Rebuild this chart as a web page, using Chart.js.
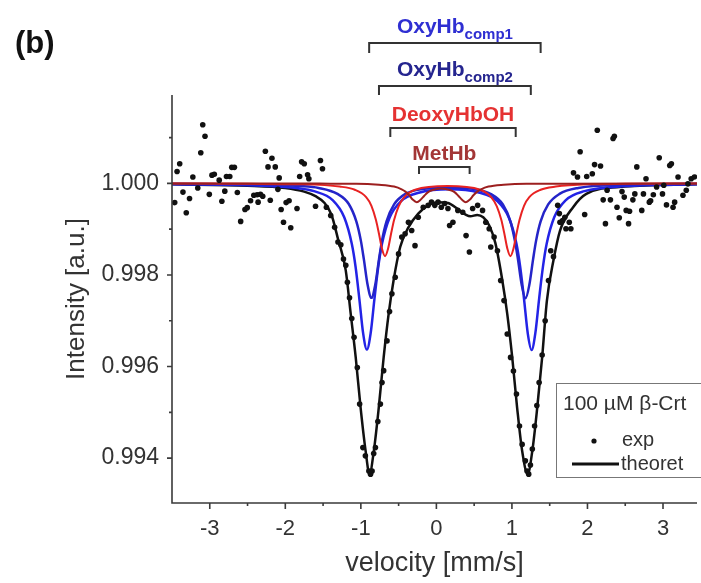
<!DOCTYPE html>
<html lang="en">
<head>
<meta charset="UTF-8" />
<title>Mössbauer spectrum – 100 µM β-Crt</title>
<script src="https://cdn.jsdelivr.net/npm/chart.js"></script>
<style>
  html, body { margin: 0; padding: 0; background: #fff; }
  #wrap { width: 701px; height: 583px; }
</style>
</head>
<body>
<div id="wrap"><canvas id="spectrum" width="701" height="583"></canvas></div>
<script>
  const FONT = 'Arial, "Liberation Sans", Helvetica, sans-serif';

  // measured spectrum
  const expV = [-3.464, -3.433, -3.398, -3.355, -3.311, -3.268, -3.224, -3.159, -3.119, -3.093, -3.063, -3.006,
    -2.971, -2.940, -2.875, -2.840, -2.801, -2.779, -2.735, -2.709, -2.674, -2.635, -2.591, -2.534, -2.504,
    -2.460, -2.417, -2.373, -2.360, -2.329, -2.299, -2.264, -2.229, -2.199, -2.177, -2.133, -2.098, -2.081,
    -2.055, -2.024, -1.989, -1.950, -1.928, -1.845, -1.810, -1.784, -1.749, -1.705, -1.688, -1.600, -1.535,
    -1.508, -1.456, -1.399, -1.347, -1.303, -1.265, -1.230, -1.199, -1.178, -1.150, -1.120, -1.090, -1.047,
    -1.016, -0.973, -0.940, -0.894, -0.872, -0.851, -0.830, -0.807, -0.775, -0.741, -0.720, -0.698, -0.654,
    -0.620, -0.589, -0.545, -0.501, -0.458, -0.414, -0.370, -0.327, -0.283, -0.240, -0.174, -0.109, -0.065,
    -0.021, 0.022, 0.065, 0.110, 0.153, 0.175, 0.219, 0.284, 0.349, 0.393, 0.437, 0.480, 0.546, 0.611, 0.654,
    0.699, 0.720, 0.764, 0.808, 0.851, 0.895, 0.938, 0.982, 1.020, 1.060, 1.100, 1.135, 1.178, 1.200, 1.222,
    1.245, 1.270, 1.300, 1.330, 1.360, 1.400, 1.440, 1.484, 1.514, 1.550, 1.606, 1.628, 1.636, 1.671, 1.700,
    1.715, 1.759, 1.780, 1.815, 1.868, 1.903, 1.963, 1.990, 2.064, 2.094, 2.130, 2.173, 2.208, 2.238, 2.260,
    2.304, 2.339, 2.356, 2.391, 2.421, 2.457, 2.487, 2.513, 2.544, 2.557, 2.601, 2.627, 2.653, 2.719, 2.741,
    2.775, 2.819, 2.836, 2.872, 2.915, 2.950, 2.993, 3.010, 3.046, 3.089, 3.111, 3.133, 3.154, 3.199, 3.264,
    3.308, 3.330, 3.373, 3.416];
  const expI = [0.99958, 1.00026, 1.00043, 0.99981, 0.99936, 0.99967, 1.00014, 0.99990, 1.00067, 1.00128, 1.00103, 0.99976,
    1.00018, 1.00020, 1.00007, 0.99961, 0.99983, 1.00015, 1.00015, 1.00035, 1.00035, 0.99980, 0.99917, 0.99943, 0.99947,
    0.99962, 0.99974, 0.99975, 0.99959, 0.99976, 0.99972, 1.00070, 1.00036, 0.99963, 1.00055, 1.00036, 0.99987, 1.00012,
    0.99943, 0.99915, 0.99958, 0.99962, 0.99903, 0.99945, 1.00015, 1.00047, 1.00043, 1.00019, 1.00010, 0.99950, 1.00050,
    1.00032, 0.99948, 0.99930, 0.99904, 0.99872, 0.99866, 0.99835, 0.99821, 0.99784, 0.99750, 0.99705, 0.99664, 0.99598,
    0.99518, 0.99423, 0.99405, 0.99372, 0.99365, 0.99372, 0.99410, 0.99423, 0.99480, 0.99518, 0.99565, 0.99591, 0.99656,
    0.99720, 0.99759, 0.99795, 0.99846, 0.99883, 0.99890, 0.99915, 0.99897, 0.99864, 0.99926, 0.99948, 0.99952, 0.99959,
    0.99952, 0.99959, 0.99948, 0.99956, 0.99945, 0.99908, 0.99915, 0.99941, 0.99937, 0.99886, 0.99850, 0.99945, 0.99952, 0.99941, 0.99915,
    0.99901, 0.99861, 0.99883, 0.99853, 0.99788, 0.99744, 0.99671, 0.99620, 0.99590, 0.99540, 0.99470, 0.99430, 0.99394, 0.99372, 0.99365,
    0.99385, 0.99420, 0.99470, 0.99515, 0.99565, 0.99625, 0.99700, 0.99788, 0.99853, 0.99840, 0.99952, 0.99934, 0.99915, 0.99919, 0.99926,
    0.99901, 0.99915, 0.99901, 1.00023, 1.00014, 1.00069, 0.99932, 1.00015, 1.00021, 1.00041, 1.00116, 1.00038, 0.99964, 0.99912, 0.99985,
    0.99964, 1.00098, 1.00103, 0.99948, 0.99925, 0.99982, 0.99970, 0.99941, 0.99912, 0.99939, 0.99964, 0.99977, 1.00036, 0.99941, 0.99977,
    1.00010, 0.99959, 0.99962, 0.99975, 0.99992, 1.00056, 0.99977, 0.99996, 0.99953, 1.00039, 1.00043, 0.99948, 0.99959, 1.00014, 0.99974,
    0.99985, 0.99999, 1.00010, 1.00014];

  // fitted envelope
  const totalV = [-3.5, -2.5, -2.0, -1.75, -1.6, -1.48, -1.39, -1.3, -1.2, -1.134, -1.068, -1.003, -0.937, -0.885,
    -0.828, -0.763, -0.698, -0.632, -0.567, -0.479, -0.37, -0.24, -0.109, 0.022, 0.153, 0.284, 0.393, 0.45, 0.54,
    0.62, 0.70, 0.78, 0.873, 0.938, 1.004, 1.069, 1.135, 1.209, 1.27, 1.335, 1.40, 1.463, 1.55, 1.637, 1.81,
    1.985, 2.5, 3.45];
  const totalI = [0.99998, 0.99995, 0.99990, 0.99982, 0.99972, 0.99957, 0.99932, 0.99877, 0.99810, 0.99715, 0.99620,
    0.99510, 0.99416, 0.99365, 0.99416, 0.99510, 0.99620, 0.99715, 0.99788, 0.99861, 0.99904, 0.99934, 0.99952,
    0.99959, 0.99957, 0.99944, 0.99931, 0.99928, 0.99931, 0.99926, 0.99908, 0.99870, 0.99788, 0.99715, 0.99620,
    0.99510, 0.99416, 0.99365, 0.99416, 0.99510, 0.99620, 0.99744, 0.99832, 0.99897, 0.99948, 0.99977, 0.99993, 0.99998];

  // OxyHb component 1
  const comp1V = [-3.5, -2.5, -1.8, -1.62, -1.37, -1.22, -1.12, -1.07, -1.02, -0.97, -0.92, -0.87, -0.82, -0.77,
    -0.72, -0.62, -0.47, -0.22, 0.17, 0.56, 0.81, 0.96, 1.06, 1.11, 1.16, 1.21, 1.26, 1.31, 1.36, 1.41, 1.46,
    1.56, 1.71, 1.96, 2.5, 3.45];
  const comp1I = [0.99998, 0.99996, 0.99989, 0.99983, 0.99963, 0.99926, 0.99868, 0.99818, 0.99748, 0.99673, 0.99637,
    0.99673, 0.99748, 0.99817, 0.99868, 0.99925, 0.99961, 0.99980, 0.99987, 0.99980, 0.99961, 0.99925, 0.99868,
    0.99817, 0.99748, 0.99672, 0.99636, 0.99673, 0.99748, 0.99817, 0.99868, 0.99926, 0.99963, 0.99983, 0.99994, 0.99998];

  // OxyHb component 2
  const comp2V = [-3.5, -2.5, -1.8, -1.56, -1.31, -1.16, -1.06, -1.0, -0.96, -0.91, -0.86, -0.81, -0.76, -0.72,
    -0.66, -0.56, -0.41, -0.16, 0.16, 0.48, 0.73, 0.88, 0.98, 1.04, 1.08, 1.13, 1.18, 1.23, 1.28, 1.32, 1.38,
    1.48, 1.63, 1.88, 2.5, 3.45];
  const comp2I = [0.99999, 0.99998, 0.99994, 0.99990, 0.99977, 0.99955, 0.99917, 0.99875, 0.99834, 0.99778, 0.99750,
    0.99778, 0.99834, 0.99875, 0.99917, 0.99954, 0.99977, 0.99988, 0.99991, 0.99988, 0.99976, 0.99954, 0.99917,
    0.99874, 0.99834, 0.99778, 0.99749, 0.99778, 0.99834, 0.99875, 0.99917, 0.99954, 0.99977, 0.99990, 0.99997, 0.99999];

  // DeoxyHbOH
  const deoxyV = [-3.5, -2.5, -1.8, -1.28, -1.08, -0.93, -0.86, -0.8, -0.76, -0.72, -0.68, -0.64, -0.6, -0.56,
    -0.5, -0.43, -0.28, 0.15, 0.58, 0.73, 0.8, 0.86, 0.9, 0.94, 0.98, 1.02, 1.06, 1.1, 1.16, 1.23, 1.38, 1.58,
    2.0, 2.5, 3.45];
  const deoxyI = [1.00000, 0.99999, 0.99998, 0.99993, 0.99986, 0.99970, 0.99951, 0.99920, 0.99890, 0.99857, 0.99841,
    0.99857, 0.99890, 0.99920, 0.99950, 0.99969, 0.99986, 0.99994, 0.99986, 0.99969, 0.99950, 0.99920, 0.99890,
    0.99857, 0.99841, 0.99857, 0.99890, 0.99920, 0.99951, 0.99970, 0.99986, 0.99993, 0.99998, 0.99999, 1.00000];

  // MetHb
  const metV = [-3.5, -1.8, -1.3, -1.06, -0.76, -0.56, -0.46, -0.41, -0.36, -0.31, -0.26, -0.21, -0.16, -0.11,
    -0.06, 0.065, 0.19, 0.24, 0.29, 0.34, 0.39, 0.44, 0.49, 0.54, 0.59, 0.69, 0.89, 1.19, 1.69, 3.45];
  const metI = [1.00000, 1.00000, 0.99999, 0.99999, 0.99997, 0.99993, 0.99987, 0.99982, 0.99974, 0.99964, 0.99959,
    0.99964, 0.99973, 0.99981, 0.99985, 0.99989, 0.99985, 0.99981, 0.99973, 0.99964, 0.99959, 0.99964, 0.99974,
    0.99982, 0.99987, 0.99993, 0.99997, 0.99999, 0.99999, 1.00000];

  const xTicks = [-3, -2, -1, 0, 1, 2, 3];
  const xMinor = [-2.5, -1.5, -0.5, 0.5, 1.5, 2.5];
  const yTicks = [0.994, 0.996, 0.998, 1.000];
  const yMinor = [0.995, 0.997, 0.999, 1.001];

  // doublet brackets above the spectrum: [label, sub, left, right, colour]
  const sites = [
    ['OxyHb', 'comp1', -0.89, 1.38, '#2f2fd2'],
    ['OxyHb', 'comp2', -0.76, 1.25, '#25258f'],
    ['DeoxyHbOH', '', -0.61, 1.05, '#e53232'],
    ['MetHb', '', -0.23, 0.44, '#a33636']
  ];

  const pts = (xs, ys) => xs.map((x, i) => ({ x: x, y: ys[i] }));

  function line(label, xs, ys, color, width, order) {
    return {
      label: label, data: pts(xs, ys), showLine: true, borderColor: color, borderWidth: width,
      pointRadius: 0, cubicInterpolationMode: 'monotone', order: order
    };
  }

  const decor = {
    id: 'decor',
    afterDraw(chart) {
      const ctx = chart.ctx, a = chart.chartArea;
      const xs = chart.scales.x, ys = chart.scales.y;
      ctx.save();

      // axes and tick marks
      ctx.strokeStyle = '#3a3a3a';
      ctx.lineWidth = 1.6;
      ctx.beginPath();
      ctx.moveTo(a.left, a.top); ctx.lineTo(a.left, a.bottom); ctx.lineTo(a.right, a.bottom);
      xTicks.forEach(v => { const p = xs.getPixelForValue(v); ctx.moveTo(p, a.bottom); ctx.lineTo(p, a.bottom + 6); });
      xMinor.forEach(v => { const p = xs.getPixelForValue(v); ctx.moveTo(p, a.bottom); ctx.lineTo(p, a.bottom + 3); });
      yTicks.forEach(v => { const p = ys.getPixelForValue(v); ctx.moveTo(a.left - 5, p); ctx.lineTo(a.left, p); });
      yMinor.forEach(v => { const p = ys.getPixelForValue(v); ctx.moveTo(a.left - 3, p); ctx.lineTo(a.left, p); });
      ctx.stroke();

      // panel letter
      ctx.fillStyle = '#111';
      ctx.font = 'bold 31px ' + FONT;
      ctx.textBaseline = 'alphabetic';
      ctx.textAlign = 'left';
      ctx.fillText('(b)', 15, 53);

      // site brackets and names
      const barY = [43, 86, 128, 167];
      const legH = [10, 9, 9, 7];
      const textY = [33, 76, 121, 160];
      sites.forEach((s, i) => {
        const l = xs.getPixelForValue(s[2]), r = xs.getPixelForValue(s[3]);
        ctx.strokeStyle = '#333';
        ctx.lineWidth = 2;
        ctx.beginPath();
        ctx.moveTo(l, barY[i] + legH[i]); ctx.lineTo(l, barY[i]);
        ctx.lineTo(r, barY[i]); ctx.lineTo(r, barY[i] + legH[i]);
        ctx.stroke();

        const cx = (l + r) / 2;
        ctx.fillStyle = s[4];
        ctx.font = 'bold 21px ' + FONT;
        const w1 = ctx.measureText(s[0]).width;
        ctx.font = 'bold 15px ' + FONT;
        const w2 = s[1] ? ctx.measureText(s[1]).width : 0;
        const x0 = cx - (w1 + w2) / 2;
        ctx.font = 'bold 21px ' + FONT;
        ctx.fillText(s[0], x0, textY[i]);
        if (s[1]) {
          ctx.font = 'bold 15px ' + FONT;
          ctx.fillText(s[1], x0 + w1, textY[i] + 6);
        }
      });

      // legend box
      ctx.strokeStyle = '#777';
      ctx.lineWidth = 1;
      ctx.strokeRect(556.5, 383.5, 160, 94);
      ctx.fillStyle = '#333';
      ctx.font = '21px ' + FONT;
      ctx.textBaseline = 'middle';
      ctx.fillText('100 \u00b5M \u03b2-Crt', 563, 404);
      ctx.font = '20px ' + FONT;
      ctx.fillText('exp', 622, 440);
      ctx.fillText('theoret', 621, 464);
      ctx.fillStyle = '#111';
      ctx.beginPath(); ctx.arc(594, 441, 2.6, 0, Math.PI * 2); ctx.fill();
      ctx.strokeStyle = '#111';
      ctx.lineWidth = 3;
      ctx.beginPath(); ctx.moveTo(572, 464); ctx.lineTo(619, 464); ctx.stroke();

      ctx.restore();
    }
  };

  new Chart(document.getElementById('spectrum'), {
    type: 'scatter',
    data: {
      datasets: [
        { label: 'exp', data: pts(expV, expI), pointRadius: 2.8, pointBackgroundColor: '#111',
          pointBorderWidth: 0, order: 0 },
        line('MetHb', metV, metI, '#9c1f1f', 2, 1),
        line('DeoxyHbOH', deoxyV, deoxyI, '#e82222', 2, 2),
        line('OxyHb comp2', comp2V, comp2I, '#2424c8', 2.5, 3),
        line('OxyHb comp1', comp1V, comp1I, '#2323e6', 2.5, 4),
        line('theoret', totalV, totalI, '#111', 2.5, 5)
      ]
    },
    options: {
      responsive: false,
      devicePixelRatio: 1,
      animation: false,
      layout: { padding: { top: 95, right: 0, bottom: 0, left: 0 } },
      plugins: { legend: { display: false }, tooltip: { enabled: false } },
      scales: {
        x: {
          type: 'linear', min: -3.5, max: 3.45,
          afterBuildTicks: s => { s.ticks = xTicks.map(v => ({ value: v })); },
          afterFit: s => { s.height = 80; },
          grid: { display: false }, border: { display: false },
          ticks: { autoSkip: false, maxRotation: 0, padding: 5, color: '#333',
            font: { size: 22, family: FONT }, callback: v => String(v) },
          title: { display: true, text: 'velocity [mm/s]', color: '#333',
            font: { size: 27, family: FONT }, padding: { top: 0, bottom: 3 } }
        },
        y: {
          min: 0.99302, max: 1.00193,
          afterBuildTicks: s => { s.ticks = yTicks.map(v => ({ value: v })); },
          afterFit: s => { s.width = 172; },
          grid: { display: false }, border: { display: false },
          ticks: { padding: 5, color: '#333', font: { size: 23, family: FONT },
            callback: v => v.toFixed(3) },
          title: { display: true, text: 'Intensity [a.u.]', color: '#333',
            font: { size: 26, family: FONT }, padding: { top: 61, bottom: 0 } }
        }
      }
    },
    plugins: [decor]
  });
</script>
</body>
</html>
